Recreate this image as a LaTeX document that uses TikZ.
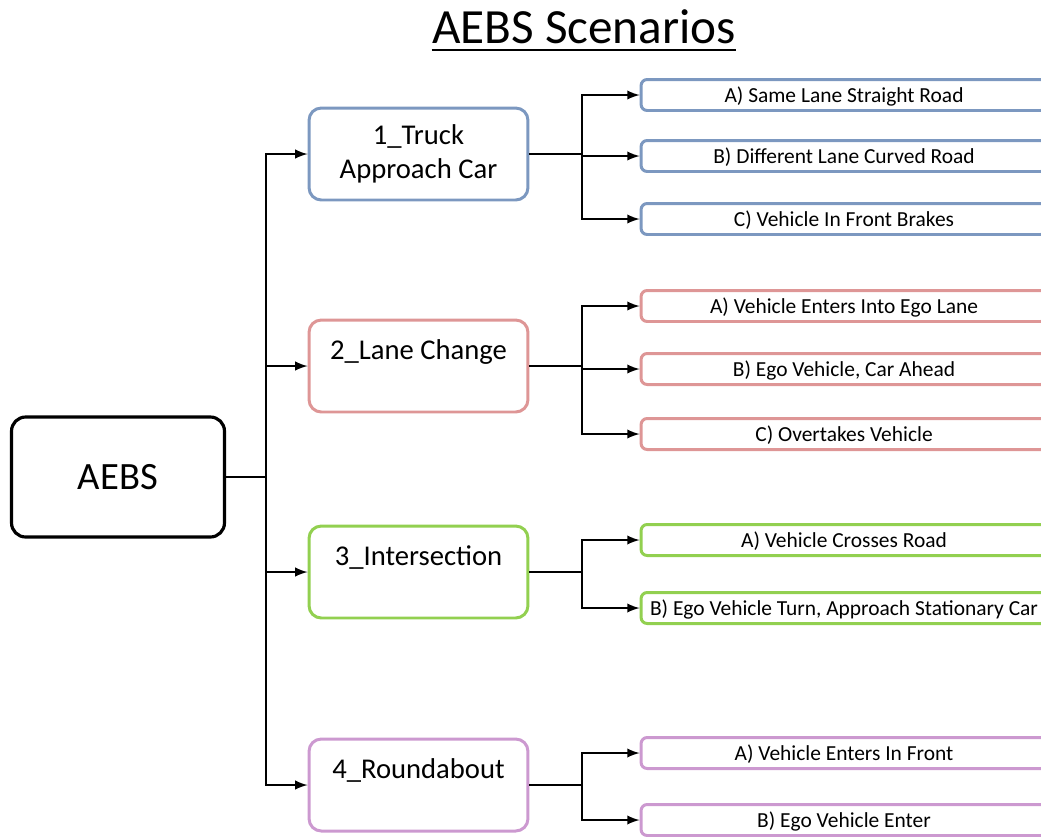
\documentclass[tikz,border=0pt]{standalone}
\usepackage{fontspec}
\setmainfont{Carlito}
\usetikzlibrary{arrows,calc}
\definecolor{TruckClr}{RGB}{124,152,192}
\definecolor{LaneClr}{RGB}{222,150,150}
\definecolor{CrossClr}{RGB}{146,208,80}
\definecolor{RoundClr}{RGB}{204,153,208}

\begin{document}
\begin{tikzpicture}[x=0.02cm,y=-0.02cm,
  root/.style={draw=black,line width=1.8pt,rounded corners=8pt,minimum width=4.26cm,minimum height=2.4cm,font=\fontsize{22}{26}\selectfont},
  group/.style={draw,line width=1.7pt,rounded corners=7pt,minimum width=4.38cm,minimum height=1.84cm,align=center,font=\fontsize{16.3}{19}\selectfont},
  leaf/.style={draw,line width=1.7pt,rounded corners=3.5pt,minimum width=8.12cm,minimum height=0.62cm,inner sep=0pt,text depth=0pt,font=\fontsize{12.2}{14}\selectfont},
  link/.style={line width=1.4pt},
  arr/.style={link,-latex}]

\useasboundingbox (0,0) rectangle (1041,836);

\node[anchor=base,inner sep=0pt,font=\fontsize{28}{32}\selectfont] (T) at (584,43) {AEBS Scenarios};
\draw[line width=1.4pt] ($(T.base west)+(0,7)$) -- ($(T.base east)+(0,7)$);

\node[root] (R) at (118,477) {AEBS};

\node[group,draw=TruckClr] (G1) at (418.5,154) {1\_Truck\\Approach Car};
\node[group,draw=LaneClr] (G2) at (418.5,366) {2\_Lane Change\\\mbox{}};
\node[group,draw=CrossClr] (G3) at (418.5,572) {3\_Intersection\\\mbox{}};
\node[group,draw=RoundClr] (G4) at (418.5,785) {4\_Roundabout\\\mbox{}};

\node[leaf,draw=TruckClr] (L1a) at (844,95) {A) Same Lane Straight Road};
\node[leaf,draw=TruckClr] (L1b) at (844,156) {B) Different Lane Curved Road};
\node[leaf,draw=TruckClr] (L1c) at (844,219) {C) Vehicle In Front Brakes};

\node[leaf,draw=LaneClr] (L2a) at (844,306) {A) Vehicle Enters Into Ego Lane};
\node[leaf,draw=LaneClr] (L2b) at (844,369) {B) Ego Vehicle, Car Ahead};
\node[leaf,draw=LaneClr] (L2c) at (844,434) {C) Overtakes Vehicle};

\node[leaf,draw=CrossClr] (L3a) at (844,540) {A) Vehicle Crosses Road};
\node[leaf,draw=CrossClr] (L3b) at (844,608) {B) Ego Vehicle Turn, Approach Stationary Car};

\node[leaf,draw=RoundClr] (L4a) at (844,753) {A) Vehicle Enters In Front};
\node[leaf,draw=RoundClr] (L4b) at (844,820) {B) Ego Vehicle Enter};

\coordinate (J) at (266,477);
\coordinate (B1) at (582,154);
\coordinate (B2) at (582,366);
\coordinate (B3) at (582,572);
\coordinate (B4) at (582,785);

\draw[link] (R.east) -- (J);
\draw[arr] (J) |- (G1.west);
\draw[arr] (J) |- (G2.west);
\draw[arr] (J) |- (G3.west);
\draw[arr] (J) |- (G4.west);

\draw[link] (G1.east) -- (B1);
\draw[arr] (B1) |- (L1a.west);
\draw[arr] (B1) |- (L1b.west);
\draw[arr] (B1) |- (L1c.west);

\draw[link] (G2.east) -- (B2);
\draw[arr] (B2) |- (L2a.west);
\draw[arr] (B2) |- (L2b.west);
\draw[arr] (B2) |- (L2c.west);

\draw[link] (G3.east) -- (B3);
\draw[arr] (B3) |- (L3a.west);
\draw[arr] (B3) |- (L3b.west);

\draw[link] (G4.east) -- (B4);
\draw[arr] (B4) |- (L4a.west);
\draw[arr] (B4) |- (L4b.west);

\end{tikzpicture}
\end{document}
